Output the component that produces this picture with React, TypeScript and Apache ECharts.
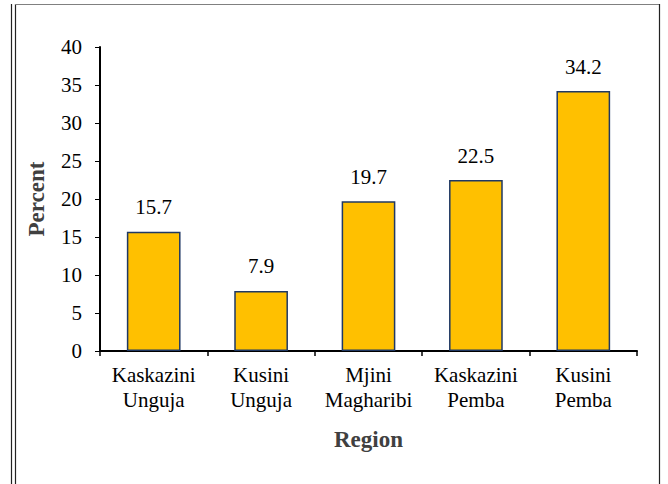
import React, { useEffect, useRef } from "react";
import * as echarts from "echarts";

const categories = ["Kaskazini\nUnguja", "Kusini\nUnguja", "Mjini\nMagharibi", "Kaskazini\nPemba", "Kusini\nPemba"];
const values = [15.7, 7.9, 19.7, 22.5, 34.2];
const yAxisTitle = "Percent";
const xAxisTitle = "Region";

const FONT = "Liberation Serif";

export default function App() {
  const ref = useRef<HTMLDivElement>(null);
  useEffect(() => {
    const chart = echarts.init(ref.current!, null, { renderer: "svg" });
    chart.setOption({
      animation: false,
      backgroundColor: "#ffffff",
      textStyle: { fontFamily: FONT },
      grid: { left: 100, right: 31, top: 47, bottom: 133, containLabel: false },
      xAxis: {
        type: "category",
        data: categories,
        name: xAxisTitle,
        nameLocation: "middle",
        nameGap: 77,
        nameTextStyle: { fontFamily: FONT, fontSize: 23, fontWeight: "bold", color: "#404040" },
        axisLine: { lineStyle: { color: "#000", width: 2 } },
        axisTick: { show: true, length: 5, lineStyle: { color: "#000", width: 1.5 } },
        axisLabel: { fontFamily: FONT, fontSize: 21, color: "#000", lineHeight: 25, margin: 11, interval: 0 },
      },
      yAxis: {
        type: "value",
        min: 0,
        max: 40,
        interval: 5,
        name: yAxisTitle,
        nameLocation: "middle",
        nameGap: 52,
        nameRotate: 90,
        nameTextStyle: { fontFamily: FONT, fontSize: 23, fontWeight: "bold", color: "#404040" },
        axisLine: { show: true, lineStyle: { color: "#000", width: 2 } },
        axisTick: { show: true, length: 5, lineStyle: { color: "#000", width: 1 } },
        axisLabel: { fontFamily: FONT, fontSize: 21, color: "#000", margin: 18 },
        splitLine: { show: false },
      },
      series: [
        {
          type: "bar",
          data: values,
          barWidth: "50%",
          itemStyle: { color: "#FFC000", borderColor: "#1F3864", borderWidth: 1.5 },
          label: {
            show: true,
            position: "top",
            distance: 14,
            fontFamily: FONT,
            fontSize: 21,
            color: "#000",
            formatter: (p: any) => p.value.toFixed(1),
          },
        },
      ],
      graphic: [
        { type: "line", shape: { x1: 11.5, y1: 4, x2: 11.5, y2: 484 }, style: { stroke: "#222", lineWidth: 1.2 } },
        { type: "line", shape: { x1: 15.5, y1: 4, x2: 15.5, y2: 484 }, style: { stroke: "#222", lineWidth: 1.2 } },
        { type: "line", shape: { x1: 15, y1: 4.5, x2: 660, y2: 4.5 }, style: { stroke: "#808080", lineWidth: 1.2 } },
        { type: "line", shape: { x1: 659.5, y1: 4, x2: 659.5, y2: 484 }, style: { stroke: "#222", lineWidth: 1.2 } },
      ],
    });
    return () => chart.dispose();
  }, []);
  return (
    <div
      ref={ref}
      style={{ position: "fixed", left: 0, top: 0, width: 668, height: 484 }}
    />
  );
}
